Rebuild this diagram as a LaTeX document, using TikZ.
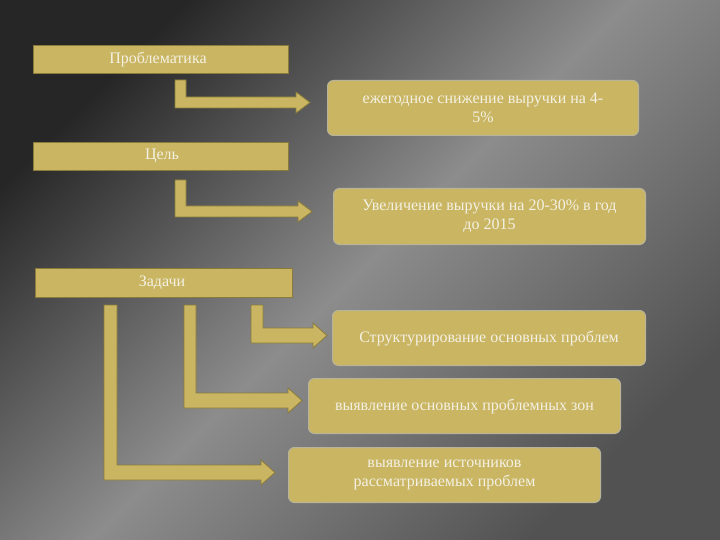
\documentclass[tikz,border=0pt]{standalone}
\usepackage{fontspec}
\setmainfont{Liberation Serif}
\begin{document}
\begin{tikzpicture}[x=1pt,y=-1pt,
  bar/.style={fill=khaki,draw=khakid,line width=0.8pt},
  rbox/.style={fill=khaki,draw=boxline,line width=1pt,rounded corners=6pt},
  lbl/.style={text=txt,font=\fontsize{16}{19}\selectfont,align=center}]
\definecolor{khaki}{HTML}{C9B562}
\definecolor{khakid}{HTML}{8A7B3A}
\definecolor{boxline}{HTML}{B8B49A}
\definecolor{txt}{HTML}{F4F1E4}
\shade[top color=black!85,bottom color=black!68,middle color=black!45,shading angle=45] (0,0) rectangle (720,540);
\useasboundingbox (0,0) rectangle (720,540);
\newcommand\bent[6]{% x1 x2 ytop ybar1 ybar2 tip
  \filldraw[bar] (#1,#3) -- (#2,#3) -- (#2,#4) -- ({#6-14},#4) -- ({#6-14},{#4-5}) -- (#6,{(#4+#5)/2}) -- ({#6-14},{#5+5}) -- ({#6-14},#5) -- (#1,#5) -- cycle;}
\node[bar,minimum width=255,minimum height=28,anchor=north west] (p) at (33,45) {};
\node[lbl] at (158,59) {Проблематика};
\node[rbox,minimum width=311,minimum height=55,anchor=north west] (b1) at (327,80) {};
\node[lbl] at (b1) {ежегодное снижение выручки на 4-\\5\%};
\node[bar,minimum width=255,minimum height=28,anchor=north west] (c) at (33,142) {};
\node[lbl] at (162,156) {Цель};
\node[rbox,minimum width=312,minimum height=56,anchor=north west] (b2) at (333,188) {};
\node[lbl] at (b2) {Увеличение выручки на 20-30\% в год\\до 2015};
\node[bar,minimum width=257,minimum height=29,anchor=north west] (z) at (35,268) {};
\node[lbl] at (162,283) {Задачи};
\node[rbox,minimum width=313,minimum height=55,anchor=north west] (b3) at (332,310) {};
\node[lbl] at (b3) {Структурирование основных проблем};
\node[rbox,minimum width=312,minimum height=55,anchor=north west] (b4) at (308,378) {};
\node[lbl] at (b4) {выявление основных проблемных зон};
\node[rbox,minimum width=312,minimum height=55,anchor=north west] (b5) at (288,447) {};
\node[lbl] at (b5) {выявление источников\\рассматриваемых проблем};
\bent{175}{186}{80}{97}{108}{310}
\bent{175}{186}{180}{206}{217}{312}
\bent{251}{263}{305}{328}{343}{327}
\bent{184}{196}{305}{393}{408}{302}
\bent{104}{117}{305}{465}{480}{275}
\end{tikzpicture}
\end{document}
